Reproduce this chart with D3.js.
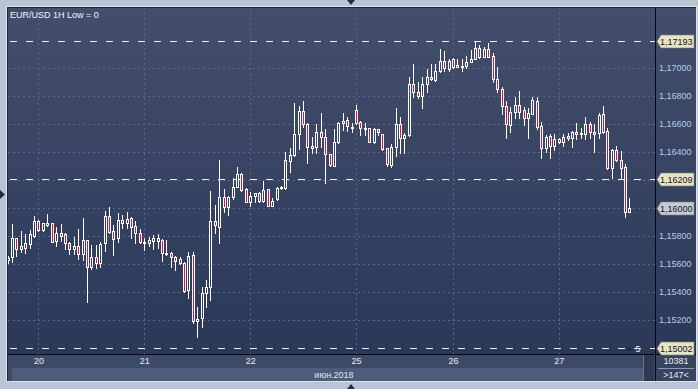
<!DOCTYPE html>
<html>
<head>
<meta charset="utf-8">
<script src="https://cdn.jsdelivr.net/npm/d3@7"></script>
<style>
  body { margin: 0; background: #b9c5d5; }
  svg { display: block; font-family: "Liberation Sans", Arial, sans-serif; }
</style>
</head>
<body>
<svg id="chart"></svg>
<script>
// EUR/USD hourly candles, 19 jun 17:00 .. 27 jun
const opens = [
  1.15646, 1.15652, 1.15784, 1.15705, 1.15716, 1.15743, 1.15800, 1.15907, 1.15843, 1.15881,
  1.15891, 1.15766, 1.15819, 1.15814, 1.15752, 1.15705, 1.15726, 1.15669, 1.15771, 1.15576,
  1.15648, 1.15609, 1.15748, 1.15943, 1.15836, 1.15788, 1.15914, 1.15891, 1.15929, 1.15871,
  1.15819, 1.15748, 1.15748, 1.15766, 1.15784, 1.15771, 1.15679, 1.15676, 1.15648, 1.15636,
  1.15609, 1.15414, 1.15664, 1.15195, 1.15212, 1.15391, 1.15438, 1.15907, 1.15866, 1.16076,
  1.16005, 1.16081, 1.16152, 1.16243, 1.16136, 1.16041, 1.16088, 1.16105, 1.16052, 1.16136,
  1.16016, 1.16064, 1.16141, 1.16141, 1.16336, 1.16379, 1.16529, 1.16695, 1.16598, 1.16443,
  1.16434, 1.16545, 1.16509, 1.16384, 1.16302, 1.16474, 1.16609, 1.16629, 1.16568, 1.16700,
  1.16612, 1.16568, 1.16569, 1.16474, 1.16562, 1.16526, 1.16426, 1.16307, 1.16438, 1.16598,
  1.16498, 1.16521, 1.16884, 1.16826, 1.16800, 1.16884, 1.16934, 1.16914, 1.16979, 1.17050,
  1.16993, 1.17062, 1.17009, 1.17005, 1.17016, 1.17045, 1.17062, 1.17145, 1.17081, 1.17136,
  1.17088, 1.16919, 1.16848, 1.16729, 1.16593, 1.16684, 1.16736, 1.16700, 1.16641, 1.16671,
  1.16764, 1.16586, 1.16426, 1.16514, 1.16443, 1.16491, 1.16474, 1.16498, 1.16498, 1.16545,
  1.16529, 1.16529, 1.16598, 1.16545, 1.16534, 1.16669, 1.16552, 1.16284, 1.16414, 1.16343,
  1.16291, 1.15974
];
const highs = [
  1.15654, 1.15886, 1.15786, 1.15836, 1.15814, 1.15843, 1.15943, 1.15914, 1.15896, 1.15955,
  1.15893, 1.15862, 1.15886, 1.15824, 1.15759, 1.15791, 1.15848, 1.15926, 1.15771, 1.15736,
  1.15736, 1.15759, 1.15979, 1.16009, 1.15879, 1.15962, 1.15950, 1.15974, 1.15938, 1.15907,
  1.15848, 1.15784, 1.15791, 1.15805, 1.15814, 1.15776, 1.15771, 1.15688, 1.15657, 1.15648,
  1.15616, 1.15688, 1.15688, 1.15295, 1.15434, 1.15486, 1.16121, 1.16021, 1.16343, 1.16134,
  1.16086, 1.16212, 1.16291, 1.16250, 1.16141, 1.16116, 1.16107, 1.16112, 1.16193, 1.16138,
  1.16069, 1.16152, 1.16159, 1.16398, 1.16426, 1.16748, 1.16731, 1.16764, 1.16604, 1.16509,
  1.16598, 1.16676, 1.16562, 1.16384, 1.16562, 1.16616, 1.16676, 1.16652, 1.16605, 1.16736,
  1.16621, 1.16605, 1.16571, 1.16569, 1.16564, 1.16526, 1.16426, 1.16455, 1.16712, 1.16652,
  1.16534, 1.16938, 1.17026, 1.16898, 1.16938, 1.16993, 1.17026, 1.17026, 1.17136, 1.17124,
  1.17064, 1.17069, 1.17064, 1.17064, 1.17088, 1.17129, 1.17193, 1.17164, 1.17152, 1.17176,
  1.17105, 1.17005, 1.16866, 1.16764, 1.16724, 1.16795, 1.16836, 1.16724, 1.16716, 1.16795,
  1.16795, 1.16616, 1.16521, 1.16526, 1.16526, 1.16502, 1.16526, 1.16534, 1.16550, 1.16605,
  1.16569, 1.16652, 1.16612, 1.16598, 1.16676, 1.16729, 1.16574, 1.16421, 1.16445, 1.16407,
  1.16312, 1.16069
];
const lows = [
  1.15605, 1.15611, 1.15657, 1.15688, 1.15681, 1.15712, 1.15795, 1.15836, 1.15839, 1.15871,
  1.15757, 1.15729, 1.15766, 1.15705, 1.15671, 1.15671, 1.15634, 1.15629, 1.15331, 1.15562,
  1.15569, 1.15576, 1.15695, 1.15819, 1.15664, 1.15759, 1.15855, 1.15855, 1.15784, 1.15752,
  1.15752, 1.15700, 1.15731, 1.15705, 1.15712, 1.15624, 1.15664, 1.15581, 1.15557, 1.15600,
  1.15402, 1.15355, 1.15181, 1.15081, 1.15152, 1.15295, 1.15343, 1.15819, 1.15748, 1.15974,
  1.15950, 1.16062, 1.16148, 1.16124, 1.16041, 1.16016, 1.16045, 1.16041, 1.16045, 1.16014,
  1.16014, 1.16057, 1.16136, 1.16136, 1.16255, 1.16374, 1.16421, 1.16581, 1.16324, 1.16391,
  1.16391, 1.16438, 1.16181, 1.16300, 1.16300, 1.16462, 1.16557, 1.16550, 1.16545, 1.16600,
  1.16521, 1.16521, 1.16469, 1.16462, 1.16521, 1.16414, 1.16302, 1.16291, 1.16374, 1.16391,
  1.16391, 1.16516, 1.16791, 1.16784, 1.16712, 1.16831, 1.16912, 1.16909, 1.16974, 1.16979,
  1.16979, 1.16998, 1.17005, 1.16979, 1.17002, 1.17045, 1.17062, 1.17074, 1.17079, 1.17080,
  1.16902, 1.16826, 1.16671, 1.16498, 1.16545, 1.16645, 1.16641, 1.16593, 1.16498, 1.16669,
  1.16564, 1.16355, 1.16402, 1.16359, 1.16414, 1.16462, 1.16445, 1.16486, 1.16438, 1.16493,
  1.16498, 1.16493, 1.16502, 1.16398, 1.16498, 1.16534, 1.16279, 1.16212, 1.16336, 1.16212,
  1.15938, 1.15974
];
const closes = [
  1.15629, 1.15784, 1.15705, 1.15729, 1.15748, 1.15814, 1.15907, 1.15843, 1.15891, 1.15895,
  1.15759, 1.15819, 1.15802, 1.15748, 1.15705, 1.15726, 1.15669, 1.15771, 1.15576, 1.15648,
  1.15609, 1.15741, 1.15943, 1.15826, 1.15781, 1.15914, 1.15895, 1.15921, 1.15866, 1.15819,
  1.15755, 1.15759, 1.15771, 1.15786, 1.15766, 1.15676, 1.15674, 1.15648, 1.15624, 1.15605,
  1.15409, 1.15657, 1.15195, 1.15205, 1.15395, 1.15438, 1.15907, 1.15876, 1.16076, 1.16005,
  1.16076, 1.16152, 1.16243, 1.16129, 1.16045, 1.16088, 1.16105, 1.16052, 1.16129, 1.16016,
  1.16052, 1.16141, 1.16152, 1.16343, 1.16379, 1.16526, 1.16695, 1.16598, 1.16434, 1.16426,
  1.16545, 1.16509, 1.16384, 1.16307, 1.16474, 1.16609, 1.16624, 1.16586, 1.16575, 1.16605,
  1.16569, 1.16571, 1.16474, 1.16564, 1.16545, 1.16421, 1.16314, 1.16438, 1.16598, 1.16498,
  1.16521, 1.16884, 1.16826, 1.16802, 1.16884, 1.16934, 1.16919, 1.16979, 1.17050, 1.17002,
  1.17050, 1.17009, 1.17021, 1.17016, 1.17045, 1.17064, 1.17145, 1.17081, 1.17136, 1.17081,
  1.16919, 1.16848, 1.16729, 1.16598, 1.16688, 1.16736, 1.16688, 1.16641, 1.16681, 1.16771,
  1.16581, 1.16426, 1.16509, 1.16443, 1.16491, 1.16474, 1.16509, 1.16514, 1.16545, 1.16529,
  1.16534, 1.16598, 1.16545, 1.16526, 1.16664, 1.16545, 1.16284, 1.16414, 1.16343, 1.16288,
  1.15974, 1.16000
];

// first bar of each day (index into the arrays) and its label
const dayIndex = [7, 31, 55, 79, 101, 125];
const dayLabels = ["20", "21", "22", "25", "26", "27"];
const monthLabel = "июн.2018";

const priceTicks = [1.152, 1.154, 1.156, 1.158, 1.160, 1.162, 1.164, 1.166, 1.168, 1.170];
const axisLabels = [1.152, 1.154, 1.156, 1.158, 1.164, 1.166, 1.168, 1.170];
const levels = [1.17193, 1.16209, 1.15002];
const lastPrice = 1.16;

const W = 698, H = 389;
const plot = { left: 8, right: 655, top: 8, bottom: 354 };
const RED = "#e0103c";
const FONT = "9px";

const svg = d3.select("#chart").attr("width", W).attr("height", H)
  .attr("shape-rendering", "crispEdges");

const candles = opens.map((o, i) => ({
  i: i, o: o, h: highs[i], l: lows[i], c: closes[i]
}));

const X = d3.scaleLinear().domain([0, candles.length - 1]).range([7.6, 629.4]);
const Y = d3.scaleLinear().domain([1.15, 1.17]).range([348, 68]);
const fmt = (v) => d3.format(".5f")(v).replace(".", ",");

const defs = svg.append("defs");
const grad = defs.append("linearGradient").attr("id", "bg")
  .attr("gradientUnits", "userSpaceOnUse")
  .attr("x1", 0).attr("y1", plot.top).attr("x2", 0).attr("y2", plot.bottom);
grad.append("stop").attr("offset", 0).attr("stop-color", "#424e6b");
grad.append("stop").attr("offset", 1).attr("stop-color", "#2c3858");
defs.append("clipPath").attr("id", "clip").append("rect")
  .attr("x", plot.left).attr("y", plot.top)
  .attr("width", plot.right - plot.left).attr("height", plot.bottom - plot.top);

// frame
svg.append("rect").attr("x", 6).attr("y", 6).attr("width", 691).attr("height", 376)
  .attr("fill", "#dde3ea");
svg.append("rect").attr("x", 7).attr("y", 7).attr("width", 689).attr("height", 374)
  .attr("fill", "#1e2639");
svg.append("rect").attr("x", plot.left).attr("y", plot.top)
  .attr("width", 696 - plot.left).attr("height", plot.bottom - plot.top)
  .attr("fill", "url(#bg)");

// bottom bands
svg.append("rect").attr("x", plot.left).attr("y", plot.bottom + 1)
  .attr("width", 696 - plot.left).attr("height", 26).attr("fill", "#3d4b68");
svg.append("rect").attr("x", 12).attr("y", 368)
  .attr("width", 631).attr("height", 13).attr("fill", "#4c5c7a");
svg.append("rect").attr("x", 643).attr("y", plot.bottom + 1)
  .attr("width", 11).attr("height", 26).attr("fill", "#2e3a55");
svg.append("rect").attr("x", 643).attr("y", plot.bottom + 1)
  .attr("width", 1).attr("height", 26).attr("fill", "#66738c");
svg.append("rect").attr("x", 656).attr("y", plot.bottom + 1)
  .attr("width", 40).attr("height", 26).attr("fill", "#37445f");

// grid
const grid = svg.append("g").attr("clip-path", "url(#clip)");
grid.append("g")
  .attr("transform", `translate(${plot.left},0)`)
  .call(d3.axisRight(Y).tickValues(priceTicks).tickFormat("")
    .tickSize(plot.right - plot.left).tickSizeOuter(0))
  .call((g) => g.select(".domain").remove())
  .call((g) => g.selectAll("line").attr("stroke", "#5a6787")
    .attr("stroke-dasharray", "2,3"));
grid.append("g")
  .attr("transform", `translate(0,${plot.top})`)
  .call(d3.axisBottom(X).tickValues(dayIndex).tickFormat("")
    .tickSize(plot.bottom - plot.top).tickSizeOuter(0))
  .call((g) => g.select(".domain").remove())
  .call((g) => g.selectAll(".tick").attr("transform", (d) => `translate(${Math.round(X(d)) + 0.5},0)`))
  .call((g) => g.selectAll("line").attr("stroke", "#5a6787")
    .attr("stroke-dasharray", "2,3"));

// level lines
grid.selectAll(".level").data(levels).join("line")
  .attr("class", "level")
  .attr("x1", plot.left + 2).attr("x2", plot.right)
  .attr("y1", (d) => Math.round(Y(d)) + 0.5).attr("y2", (d) => Math.round(Y(d)) + 0.5)
  .attr("stroke", "#eef1f5").attr("stroke-dasharray", "7,9");

// candles: white wick, white outlined body, red (down) or hollow (up) inside
const cg = svg.append("g").attr("clip-path", "url(#clip)");
const bar = cg.selectAll(".candle").data(candles).join("g").attr("class", "candle");
bar.append("rect")
  .attr("x", (d) => Math.round(X(d.i)))
  .attr("y", (d) => Math.round(Y(d.h)))
  .attr("width", 1)
  .attr("height", (d) => Math.round(Y(d.l)) - Math.round(Y(d.h)) + 1)
  .attr("fill", "#ffffff");
const bodyTop = (d) => Math.round(Y(Math.max(d.o, d.c)));
const bodyH = (d) => Math.max(Math.round(Y(Math.min(d.o, d.c))) - bodyTop(d) + 1, 2);
bar.append("rect")
  .attr("x", (d) => Math.round(X(d.i)) - 1)
  .attr("y", bodyTop)
  .attr("width", 3)
  .attr("height", bodyH)
  .attr("fill", "#ffffff");
bar.filter((d) => bodyH(d) > 2).append("rect")
  .attr("x", (d) => Math.round(X(d.i)))
  .attr("y", (d) => bodyTop(d) + 1)
  .attr("width", 1)
  .attr("height", (d) => bodyH(d) - 2)
  .attr("fill", (d) => (d.c < d.o ? RED : "url(#bg)"));

// separators
svg.append("rect").attr("x", plot.left).attr("y", plot.bottom)
  .attr("width", 696 - plot.left).attr("height", 1).attr("fill", "#05070c");
svg.append("rect").attr("x", plot.right).attr("y", plot.top)
  .attr("width", 1).attr("height", 381 - plot.top).attr("fill", "#05070c");
svg.append("rect").attr("x", 658).attr("y", 368)
  .attr("width", 36).attr("height", 1).attr("fill", "#8d99b0");

// right price axis
svg.append("g")
  .attr("transform", `translate(${plot.right + 1},0)`)
  .call(d3.axisRight(Y).tickValues(axisLabels).tickFormat(fmt).tickSize(0).tickPadding(3))
  .call((g) => g.select(".domain").remove())
  .call((g) => g.selectAll("text").attr("fill", "#b3cdf0")
    .attr("font-size", FONT).attr("font-family", "Liberation Sans, Arial, sans-serif"));

// price tags
const tags = levels.map((v) => ({ v: v, bg: "#e7e4c4" }))
  .concat([{ v: lastPrice, bg: "#c6cad2" }]);
const tg = svg.selectAll(".tag").data(tags).join("g").attr("class", "tag")
  .attr("transform", (d) => `translate(${plot.right + 1},${Math.round(Y(d.v))})`);
tg.append("path")
  .attr("d", "M1,0.5 L5,-6 H38 V7 H5 Z")
  .attr("shape-rendering", "auto")
  .attr("fill", (d) => d.bg).attr("stroke", "#7f8270").attr("stroke-width", 0.6);
tg.append("text").attr("x", 4).attr("y", 4)
  .attr("font-size", FONT).attr("fill", "#15171c")
  .text((d) => fmt(d.v));

// day labels
svg.append("g")
  .attr("transform", `translate(0,${plot.bottom})`)
  .call(d3.axisBottom(X).tickValues(dayIndex).tickFormat((d, i) => dayLabels[i])
    .tickSize(0).tickPadding(4))
  .call((g) => g.select(".domain").remove())
  .call((g) => g.selectAll("text").attr("fill", "#e6ecf4")
    .attr("font-size", FONT).attr("font-family", "Liberation Sans, Arial, sans-serif"));

const txt = (x, y, s, size, fill, anchor) =>
  svg.append("text").attr("x", x).attr("y", y).attr("font-size", size)
    .attr("fill", fill).attr("text-anchor", anchor || "start").text(s);

txt(334, 378, monthLabel, FONT, "#dfe5ee", "middle");
txt(676, 364, "10381", FONT, "#e4eaf3", "middle");
txt(676, 378, ">147<", FONT, "#e4eaf3", "middle");
txt(10, 18, "EUR/USD 1H Low = 0", FONT, "#f2f4f8");
txt(638, 352, "5", FONT, "#eef1f5", "middle");

// small markers
svg.append("path").attr("d", "M626,351 L629,347 L632,351 Z").attr("fill", "#1f2738")
  .attr("shape-rendering", "auto");
svg.append("path").attr("d", "M347,0 L355,0 L351,5 Z").attr("fill", "#232c3d")
  .attr("shape-rendering", "auto");
svg.append("path").attr("d", "M347,389 L355,389 L351,384 Z").attr("fill", "#232c3d")
  .attr("shape-rendering", "auto");
svg.append("path").attr("d", "M0,190 L5,194.5 L0,199 Z").attr("fill", "#232c3d")
  .attr("shape-rendering", "auto");
</script>
</body>
</html>
